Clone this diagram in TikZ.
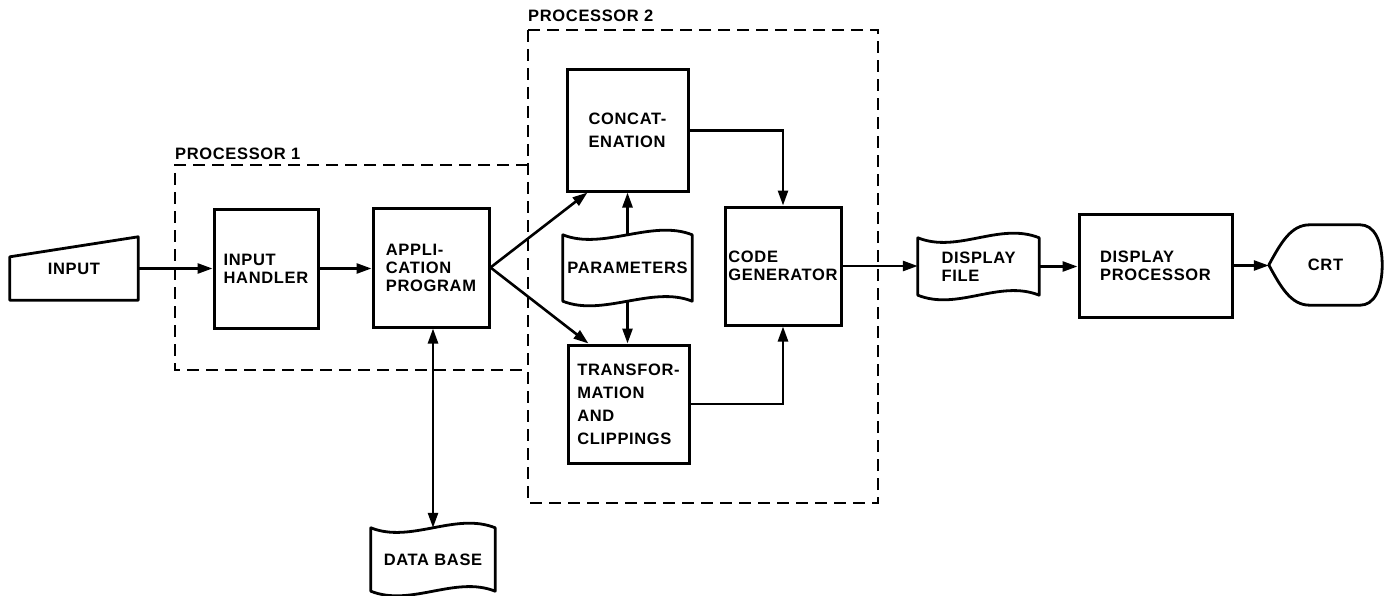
\documentclass[tikz,border=0pt]{standalone}
\usepackage{fontspec}
\newfontfamily\lettering[LetterSpace=4]{Liberation Sans}
\usetikzlibrary{positioning,arrows.meta,calc}

\begin{document}
\begin{tikzpicture}[
  x=1pt, y=-1pt,
  font=\lettering\bfseries\fontsize{16.5}{18}\selectfont,
  box/.style={draw, line width=3pt, align=left, inner sep=0pt},
  shp/.style={align=left, inner sep=0pt},
  tall/.style={font=\lettering\bfseries\fontsize{16.5}{23}\selectfont},
  outl/.style={line width=2.8pt, line join=round},
  frame/.style={dash pattern=on 12pt off 7pt, line width=2.8pt},
  arr/.style={-{Triangle[length=15pt,width=10pt]}, line width=2.6pt},
  darr/.style={{Triangle[length=15pt,width=10pt]}-{Triangle[length=15pt,width=10pt]}, line width=2.6pt}
]
\useasboundingbox (0,0) rectangle (1388,596);

% processor frames
\draw[frame] (528,165) -- (175,165) -- (175,370) -- (528,370);
\draw[frame] (528,30) rectangle (878,503);
\node[anchor=base west, inner sep=0pt] (p1lab) at (175,160) {PROCESSOR 1};
\node[anchor=base west, inner sep=0pt] (p2lab) at (528,22) {PROCESSOR 2};

% blocks
\node[shp, minimum width=128pt, minimum height=63pt] (input) at (74,268.5) {INPUT};
\node[box, minimum width=104pt, minimum height=119pt] (inhand) at (266,268.5) {INPUT\\HANDLER};
\node[box, minimum width=116pt, minimum height=119pt] (app) at (431,267.5) {APPLI-\\CATION\\PROGRAM};
\node[box, tall, minimum width=121pt, minimum height=121pt] (concat) at (627.5,130.5) {CONCAT-\\ENATION};
\node[shp, minimum width=129pt, minimum height=66pt] (param) at (627.5,268) {PARAMETERS};
\node[box, tall, minimum width=121pt, minimum height=118pt] (trans) at (628.5,404) {TRANSFOR-\\MATION\\AND\\CLIPPINGS};
\node[box, minimum width=116pt, minimum height=118pt] (codegen) at (783,266) {CODE\\GENERATOR};
\node[shp, minimum width=121pt, minimum height=57pt] (dfile) at (978.5,266.5) {DISPLAY\\FILE};
\node[box, minimum width=153pt, minimum height=103pt] (dproc) at (1155.5,265.5) {DISPLAY\\PROCESSOR};
\node[shp, minimum width=113pt, minimum height=80pt] (crt) at (1325.5,265) {CRT};
\node[shp, minimum width=124pt, minimum height=63pt] (dbase) at (433,559.5) {DATA BASE};

% outlines of the special symbols
\draw[outl] (input.south west) -- (input.south east) -- (input.north east)
  -- ($(input.north west)+(0,20)$) -- cycle;
\foreach \n in {param,dfile,dbase}
  \draw[outl] (\n.north west) .. controls ($(\n.north west)+(40,16)$) and ($(\n.north east)+(-40,-16)$) .. (\n.north east)
    -- (\n.south east) .. controls ($(\n.south east)+(-40,-16)$) and ($(\n.south west)+(40,16)$) .. (\n.south west) -- cycle;
\draw[outl] (crt.west) .. controls ($(crt.west)+(12,-22)$) and ($(crt.north west)+(22,0)$) .. ($(crt.north west)+(41,0)$)
  -- ($(crt.north east)+(-22,0)$) .. controls ($(crt.north east)+(-8,0)$) and ($(crt.east)+(0,-24)$) .. (crt.east)
  .. controls ($(crt.east)+(0,24)$) and ($(crt.south east)+(-8,0)$) .. ($(crt.south east)+(-22,0)$)
  -- ($(crt.south west)+(41,0)$) .. controls ($(crt.south west)+(22,0)$) and ($(crt.west)+(12,22)$) .. (crt.west) -- cycle;

% connectors
\draw[arr] (input.east) -- (inhand.west);
\draw[arr] (inhand.east) -- (inhand.east -| app.west);
\draw[arr] (app.east) -- ([xshift=22pt]concat.south west);
\draw[arr] (app.east) -- ([xshift=22pt]trans.north west);
\draw[arr] (param.north) -- (concat.south);
\draw[arr] (param.south) -- (param.south |- trans.north);
\draw[arr] (concat.east) -| (codegen.north);
\draw[arr] (trans.east) -| (codegen.south);
\draw[arr] (codegen.east) -- (codegen.east -| dfile.west);
\draw[arr] (dfile.east) -- (dfile.east -| dproc.west);
\draw[arr] (dproc.east) -- (dproc.east -| crt.west);
\draw[darr] (app.south -| dbase.north) -- (dbase.north);
\end{tikzpicture}
\end{document}
